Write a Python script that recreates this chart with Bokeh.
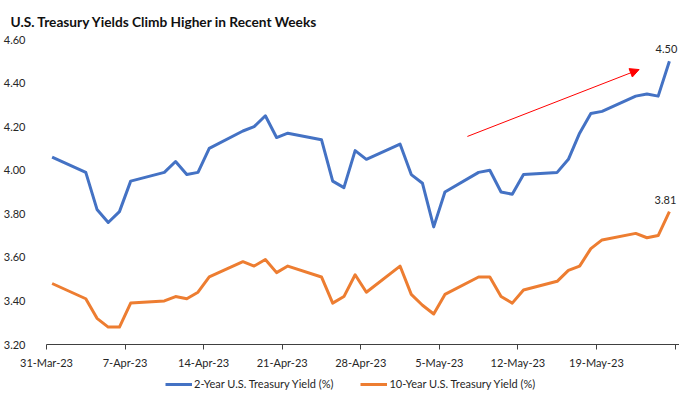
import pandas as pd
from bokeh.plotting import figure
from bokeh.layouts import column
from bokeh.models import (Range1d, FixedTicker, Legend, LegendItem, Arrow,
                          NormalHead, Label, NumeralTickFormatter, ColumnDataSource)
from bokeh.embed import file_html
from bokeh.resources import INLINE

dates = ["2023-03-31",
         "2023-04-03", "2023-04-04", "2023-04-05", "2023-04-06", "2023-04-07",
         "2023-04-10", "2023-04-11", "2023-04-12", "2023-04-13", "2023-04-14",
         "2023-04-17", "2023-04-18", "2023-04-19", "2023-04-20", "2023-04-21",
         "2023-04-24", "2023-04-25", "2023-04-26", "2023-04-27", "2023-04-28",
         "2023-05-01", "2023-05-02", "2023-05-03", "2023-05-04", "2023-05-05",
         "2023-05-08", "2023-05-09", "2023-05-10", "2023-05-11", "2023-05-12",
         "2023-05-15", "2023-05-16", "2023-05-17", "2023-05-18", "2023-05-19",
         "2023-05-22", "2023-05-23", "2023-05-24", "2023-05-25"]

two_year = [4.06,
            3.99, 3.82, 3.76, 3.81, 3.95,
            3.99, 4.04, 3.98, 3.99, 4.10,
            4.18, 4.20, 4.25, 4.15, 4.17,
            4.14, 3.95, 3.92, 4.09, 4.05,
            4.12, 3.98, 3.94, 3.74, 3.90,
            3.99, 4.00, 3.90, 3.89, 3.98,
            3.99, 4.05, 4.17, 4.26, 4.27,
            4.34, 4.35, 4.34, 4.50]

ten_year = [3.48,
            3.41, 3.32, 3.28, 3.28, 3.39,
            3.40, 3.42, 3.41, 3.44, 3.51,
            3.58, 3.56, 3.59, 3.53, 3.56,
            3.51, 3.39, 3.42, 3.52, 3.44,
            3.56, 3.43, 3.38, 3.34, 3.43,
            3.51, 3.51, 3.42, 3.39, 3.45,
            3.49, 3.54, 3.56, 3.64, 3.68,
            3.71, 3.69, 3.70, 3.81]

tick_dates = ["2023-03-31", "2023-04-07", "2023-04-14", "2023-04-21", "2023-04-28",
              "2023-05-05", "2023-05-12", "2023-05-19", "2023-05-26"]
tick_labels = ["31-Mar-23", "7-Apr-23", "14-Apr-23", "21-Apr-23", "28-Apr-23",
               "5-May-23", "12-May-23", "19-May-23", ""]
y_ticks = [3.20, 3.40, 3.60, 3.80, 4.00, 4.20, 4.40, 4.60]

series_names = ["2-Year U.S. Treasury Yield (%)", "10-Year U.S. Treasury Yield (%)"]
series_colors = ["#4472C4", "#ED7D31"]

# arrow annotation (day offset from start, yield)
arrow_start = (37.5, 4.155)
arrow_end = (52.8, 4.462)

FONT = "Lato"
TXT = "#262626"

start = pd.Timestamp(tick_dates[0])
x = [(pd.Timestamp(d) - start).days + 0.5 for d in dates]
tick_x = [(pd.Timestamp(d) - start).days for d in tick_dates]

src = ColumnDataSource(dict(x=x, y2=two_year, y10=ten_year))

p = figure(width=679, height=371, output_backend="svg", toolbar_location=None,
           x_range=Range1d(tick_x[0], tick_x[-1] + 0.4), y_range=Range1d(y_ticks[0], y_ticks[-1]),
           min_border_left=32, min_border_right=0, min_border_top=0, min_border_bottom=20,
           title="U.S. Treasury Yields Climb Higher in Recent Weeks")
p.outline_line_color = None
p.grid.grid_line_color = None
p.background_fill_color = "white"
p.border_fill_color = "white"

p.title.text_font = FONT
p.title.text_font_size = "13.7px"
p.title.text_font_style = "bold"
p.title.text_color = "#111111"
p.title.align = "left"
p.title.offset = -36
p.title.standoff = 20

r2 = p.line("x", "y2", source=src, line_color=series_colors[0], line_width=3, line_join="round")
r10 = p.line("x", "y10", source=src, line_color=series_colors[1], line_width=3, line_join="round")

# axes
p.yaxis.ticker = FixedTicker(ticks=y_ticks)
p.yaxis.formatter = NumeralTickFormatter(format="0.00")
p.yaxis.axis_line_color = None
p.yaxis.major_tick_line_color = None
p.yaxis.minor_tick_line_color = None
p.yaxis.major_label_standoff = 15
p.yaxis.major_label_text_font = FONT
p.yaxis.major_label_text_font_size = "11px"
p.yaxis.major_label_text_color = TXT

p.xaxis.ticker = FixedTicker(ticks=tick_x)
p.xaxis.major_label_overrides = {t: l for t, l in zip(tick_x, tick_labels)}
p.xaxis.axis_line_color = "#404040"
p.xaxis.major_tick_line_color = "#404040"
p.xaxis.major_tick_in = 0
p.xaxis.major_tick_out = 5
p.xaxis.minor_tick_line_color = None
p.xaxis.major_label_standoff = 6
p.xaxis.axis_label_standoff = 0
p.xaxis.major_label_text_font = FONT
p.xaxis.major_label_text_font_size = "11px"
p.xaxis.major_label_text_color = TXT

# end labels
p.add_layout(Label(x=x[-1], y=two_year[-1], text=f"{two_year[-1]:.2f}", x_offset=-3, y_offset=8,
                   text_align="center", text_baseline="bottom", text_font=FONT,
                   text_font_size="11px", text_color=TXT))
p.add_layout(Label(x=x[-1], y=ten_year[-1], text=f"{ten_year[-1]:.2f}", x_offset=-4, y_offset=8,
                   text_align="center", text_baseline="bottom", text_font=FONT,
                   text_font_size="11px", text_color=TXT))

# red arrow
p.add_layout(Arrow(end=NormalHead(size=9, fill_color="#FF0000", line_color="#FF0000"),
                   x_start=arrow_start[0], y_start=arrow_start[1],
                   x_end=arrow_end[0], y_end=arrow_end[1],
                   line_color="#FF0000", line_width=1))

# legend in a small strip figure below (proxy lines fall outside its ranges)
lf = figure(width=679, height=19, output_backend="svg", toolbar_location=None,
            x_range=Range1d(0, 0.01), y_range=Range1d(0, 0.01),
            min_border=0, min_border_left=0, min_border_right=0,
            min_border_top=0, min_border_bottom=0)
lf.axis.visible = False
lf.grid.visible = False
lf.outline_line_color = None
lf.border_fill_color = "white"
l2 = lf.line("x", "y2", source=src, line_color=series_colors[0], line_width=3)
l10 = lf.line("x", "y10", source=src, line_color=series_colors[1], line_width=3)
legend = Legend(items=[LegendItem(label=series_names[0], renderers=[l2]),
                       LegendItem(label=series_names[1], renderers=[l10])],
                orientation="horizontal", location=(119, 0),
                label_text_font=FONT, label_text_font_size="11px", label_text_color=TXT,
                glyph_width=27, glyph_height=12, label_height=12, label_standoff=2,
                spacing=27, padding=0, margin=0, border_line_color=None,
                background_fill_alpha=0)
lf.add_layout(legend)

layout = column(p, lf, spacing=0)
open("out.html", "w").write(file_html(layout, INLINE))
